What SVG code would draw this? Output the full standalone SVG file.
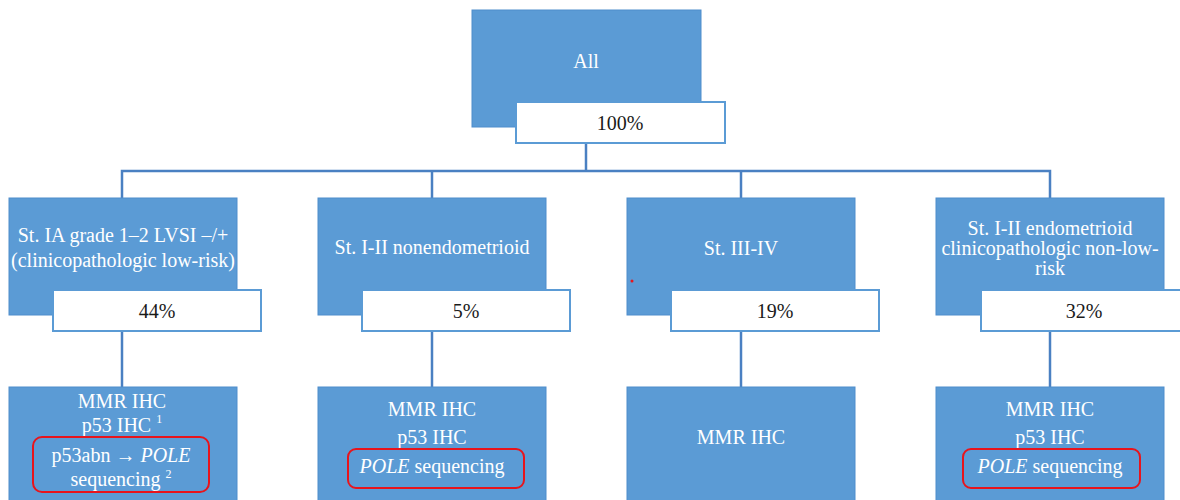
<svg xmlns="http://www.w3.org/2000/svg" width="1180" height="500" viewBox="0 0 1180 500" font-family="'Liberation Serif', 'Times New Roman', serif">
<style>
.box{fill:#5b9bd5;stroke:#4f8dcc;stroke-width:1}
.pct{fill:#ffffff;stroke:#5b9bd5;stroke-width:2}
.hl{fill:none;stroke:#e8141c;stroke-width:2}
.conn{fill:none;stroke:#4a80c2;stroke-width:2.5}
text{font-family:"Liberation Serif","Times New Roman",serif;font-size:20px;text-anchor:middle;dominant-baseline:central}
.w{fill:#ffffff}
.k{fill:#1a1a1a}
</style>
<rect width="1180" height="500" fill="#ffffff"/>
<g id="connectors">
<path class="conn" d="M586,143 V171"/>
<path class="conn" d="M122,198 V171 H1050 V198"/>
<path class="conn" d="M432,171 V198"/>
<path class="conn" d="M741,171 V198"/>
<path class="conn" d="M122,331 V387"/>
<path class="conn" d="M432,331 V387"/>
<path class="conn" d="M741,331 V387"/>
<path class="conn" d="M1050,331 V387"/>
</g>
<g id="node-all">
<rect class="box" x="472" y="10" width="229" height="117"/>
<text class="w" x="586" y="61">All</text>
<rect class="pct" x="516" y="102" width="209" height="41"/>
<text class="k" x="620" y="123">100%</text>
</g>
<g id="node-low-risk">
<rect class="box" x="9" y="198" width="228" height="117"/>
<text class="w" x="123" y="235">St. IA grade 1–2 LVSI –/+</text>
<text class="w" x="123" y="260">(clinicopathologic low-risk)</text>
<rect class="pct" x="53" y="290" width="208" height="41"/>
<text class="k" x="157" y="311">44%</text>
</g>
<g id="node-nonendometrioid">
<rect class="box" x="318" y="198" width="228" height="117"/>
<text class="w" x="432" y="247">St. I-II nonendometrioid</text>
<rect class="pct" x="362" y="290" width="208" height="41"/>
<text class="k" x="466" y="311">5%</text>
</g>
<g id="node-stage-3-4">
<rect class="box" x="627" y="198" width="228" height="117"/>
<text class="w" x="741" y="248">St. III-IV</text>
<circle cx="632" cy="281" r="1.5" fill="#e8141c"/>
<rect class="pct" x="671" y="290" width="208" height="41"/>
<text class="k" x="775" y="311">19%</text>
</g>
<g id="node-non-low-risk">
<rect class="box" x="936" y="198" width="228" height="117"/>
<text class="w" x="1050" y="228">St. I-II endometrioid</text>
<text class="w" x="1050" y="248">clinicopathologic non-low-</text>
<text class="w" x="1050" y="268">risk</text>
<rect class="pct" x="981" y="290" width="208" height="41"/>
<text class="k" x="1084" y="311">32%</text>
</g>
<g id="test-low-risk">
<rect class="box" x="9" y="387" width="228" height="120"/>
<text class="w" x="122" y="401">MMR IHC</text>
<text class="w" x="122" y="425">p53 IHC <tspan font-size="12" dy="-6">1</tspan></text>
<rect class="hl" x="33" y="437" width="176" height="55" rx="9"/>
<text class="w" x="121" y="455">p53abn → <tspan font-style="italic">POLE</tspan></text>
<text class="w" x="121" y="479">sequencing <tspan font-size="12" dy="-5">2</tspan></text>
</g>
<g id="test-nonendometrioid">
<rect class="box" x="318" y="387" width="228" height="120"/>
<text class="w" x="432" y="409">MMR IHC</text>
<text class="w" x="432" y="437">p53 IHC</text>
<rect class="hl" x="348" y="449" width="176" height="39" rx="8"/>
<text class="w" x="432" y="466"><tspan font-style="italic">POLE</tspan> sequencing</text>
</g>
<g id="test-stage-3-4">
<rect class="box" x="627" y="387" width="228" height="120"/>
<text class="w" x="741" y="437">MMR IHC</text>
</g>
<g id="test-non-low-risk">
<rect class="box" x="936" y="387" width="228" height="120"/>
<text class="w" x="1050" y="409">MMR IHC</text>
<text class="w" x="1050" y="437">p53 IHC</text>
<rect class="hl" x="963" y="449" width="177" height="39" rx="8"/>
<text class="w" x="1050" y="466"><tspan font-style="italic">POLE</tspan> sequencing</text>
</g>
</svg>
